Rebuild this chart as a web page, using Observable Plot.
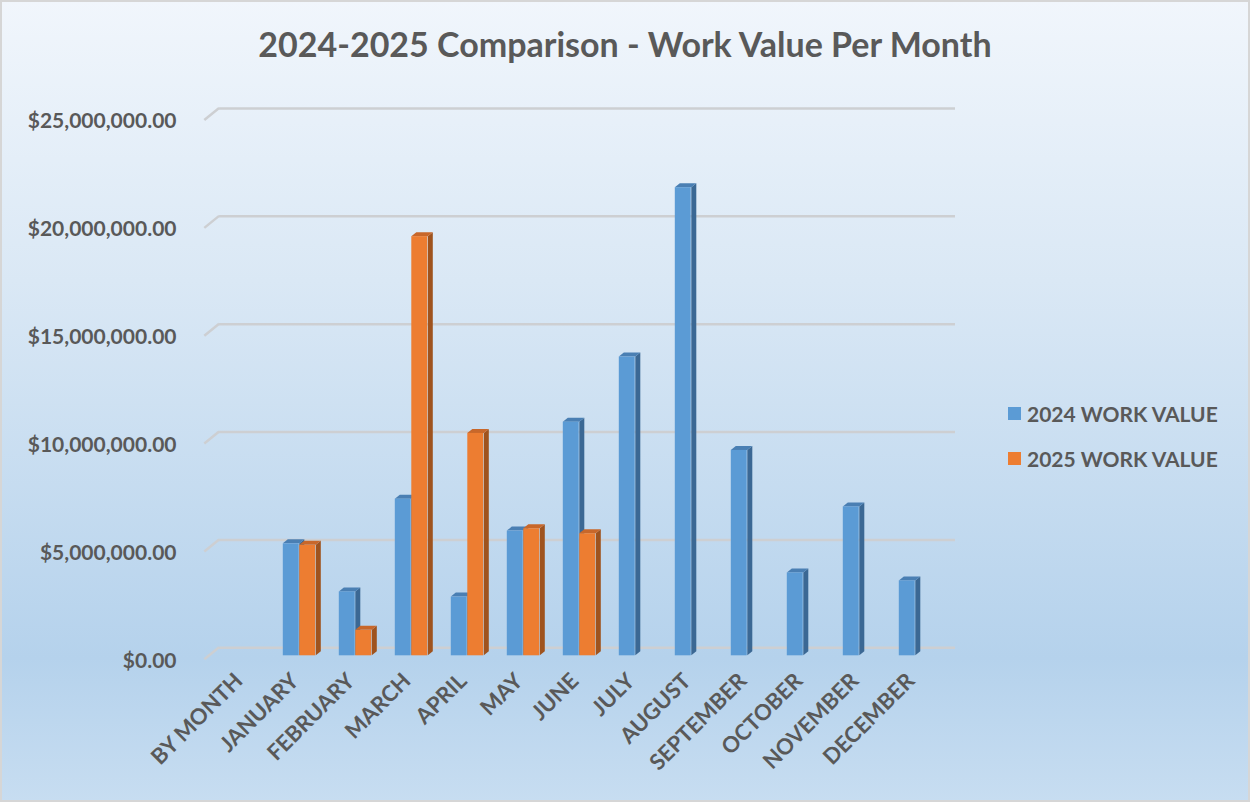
<!DOCTYPE html>
<html>
<head>
<meta charset="utf-8">
<script src="https://cdn.jsdelivr.net/npm/d3@7"></script>
<script src="https://cdn.jsdelivr.net/npm/@observablehq/plot@0.6"></script>
<style>
  html, body { margin: 0; padding: 0; }
  #chart {
    position: relative; width: 1250px; height: 802px; overflow: hidden;
    background: linear-gradient(to bottom, #f1f6fc 0%, #dae8f5 35%, #b5d2ec 82%, #c7ddf1 100%);
    box-shadow: inset 0 0 0 2px #d6d6d6;
    font-family: Lato, sans-serif;
  }
  #title {
    box-sizing: border-box; height: 80px; padding-top: 26.5px;
    text-align: center; line-height: 1; font-size: 34px; font-weight: 700; color: #595959;
  }
  #legend { position: absolute; left: 1008px; top: 391px; }
  #legend div { line-height: 45px !important; padding-bottom: 0 !important; margin: 0 !important; }
  #legend svg { margin-right: 6px !important; }
  #chart svg { display: block; }
</style>
</head>
<body>
<div id="chart">
  <div id="title">2024-2025 Comparison - Work Value Per Month</div>
  <div id="plot"></div>
  <div id="legend"></div>
</div>
<script>
// ---- data ----
const months = ["BY MONTH", "JANUARY", "FEBRUARY", "MARCH", "APRIL", "MAY", "JUNE",
                "JULY", "AUGUST", "SEPTEMBER", "OCTOBER", "NOVEMBER", "DECEMBER"];
const series = ["2024 WORK VALUE", "2025 WORK VALUE"];
const value2024 = [null, 5190000, 2960000, 7260000, 2720000, 5780000, 10830000,
                   13850000, 21700000, 9520000, 3840000, 6900000, 3470000];
const value2025 = [null, 5120000, 1180000, 19430000, 10310000, 5890000, 5660000,
                   null, null, null, null, null, null];
const yTicks = [0, 5000000, 10000000, 15000000, 20000000, 25000000];

// ---- styles ----
const colors = ["#5b9bd5", "#ed7d31"];
const topColors = ["#4a7fb3", "#c8672a"];
const sideColors = ["#3b6894", "#9f531e"];
const font = "Lato, sans-serif";
const textColor = "#595959";
const barW = 16.5, outer = 11.8, depthX = 5, depthY = 4;

const rows = [];
months.forEach((m, i) => {
  if (value2024[i] != null) rows.push({month: m, series: series[0], value: value2024[i], s: 0});
  if (value2025[i] != null) rows.push({month: m, series: series[1], value: value2025[i], s: 1});
});

const fmt = d3.format("$,.2f");
const ns = "http://www.w3.org/2000/svg";

function poly(g, pts, fill) {
  const p = document.createElementNS(ns, "polygon");
  p.setAttribute("points", pts.map(q => q.join(",")).join(" "));
  p.setAttribute("fill", fill);
  g.appendChild(p);
}

// left-end diagonals of the 3D floor/back wall gridlines
function gridDiagonals(index, scales, values, dimensions) {
  const {y} = scales;
  const g = document.createElementNS(ns, "g");
  const x0 = dimensions.marginLeft;
  for (const t of yTicks) {
    const l = document.createElementNS(ns, "line");
    l.setAttribute("x1", x0 - 6.3); l.setAttribute("y1", y(t) + 4);
    l.setAttribute("x2", x0 + 8.5); l.setAttribute("y2", y(t) - 8);
    l.setAttribute("stroke", "#cdcfd2"); l.setAttribute("stroke-width", 2.5);
    g.appendChild(l);
  }
  return g;
}

// top and side faces of the 3D columns
function depthFaces(index, scales) {
  const {x, y} = scales;
  const g = document.createElementNS(ns, "g");
  for (const r of rows) {
    const left = x(r.month) + (r.s === 0 ? outer : outer + barW);
    const right = left + barW;
    const top = y(r.value), base = y(0);
    poly(g, [[right, top], [right + depthX, top - depthY], [right + depthX, base - depthY], [right, base]], sideColors[r.s]);
    poly(g, [[left, top], [right, top], [right + depthX, top - depthY], [left + depthX, top - depthY]], topColors[r.s]);
  }
  return g;
}

const chart = Plot.plot({
  width: 1250,
  height: 722,
  marginLeft: 210.6,
  marginRight: 303.5,
  marginTop: 36,
  marginBottom: 146.7,
  style: {background: "transparent", overflow: "visible"},
  x: {type: "band", domain: months, padding: 0, axis: null},
  y: {domain: [0, 25000000], axis: null},
  marks: [
    Plot.ruleY(yTicks, {dx: 8.5, dy: -8, stroke: "#cdcfd2", strokeWidth: 2.5}),
    gridDiagonals,
    Plot.text(yTicks, {y: d => d, text: d => fmt(d), frameAnchor: "left", textAnchor: "end",
      dx: -34.6, dy: 5, fontFamily: font, fontWeight: 700, fontSize: 21, fill: textColor}),
    Plot.text(months, {x: d => d, text: d => d, frameAnchor: "bottom", rotate: -45, textAnchor: "end",
      dx: 0.5, dy: 26.5, fontFamily: font, fontWeight: 700, fontSize: 22, fill: textColor}),
    depthFaces,
    Plot.barY(rows.filter(d => d.s === 0), {x: "month", y: "value", fill: colors[0],
      insetLeft: outer, insetRight: outer + barW}),
    Plot.barY(rows.filter(d => d.s === 1), {x: "month", y: "value", fill: colors[1],
      insetLeft: outer + barW, insetRight: outer})
  ]
});
document.getElementById("plot").appendChild(chart);

const legend = Plot.legend({
  color: {type: "ordinal", domain: series, range: colors},
  legend: "swatches", columns: 1, swatchSize: 13, className: "lg",
  style: {fontFamily: font, fontSize: "21px", fontWeight: 700, color: textColor, background: "transparent"}
});
document.getElementById("legend").appendChild(legend);
</script>
</body>
</html>
